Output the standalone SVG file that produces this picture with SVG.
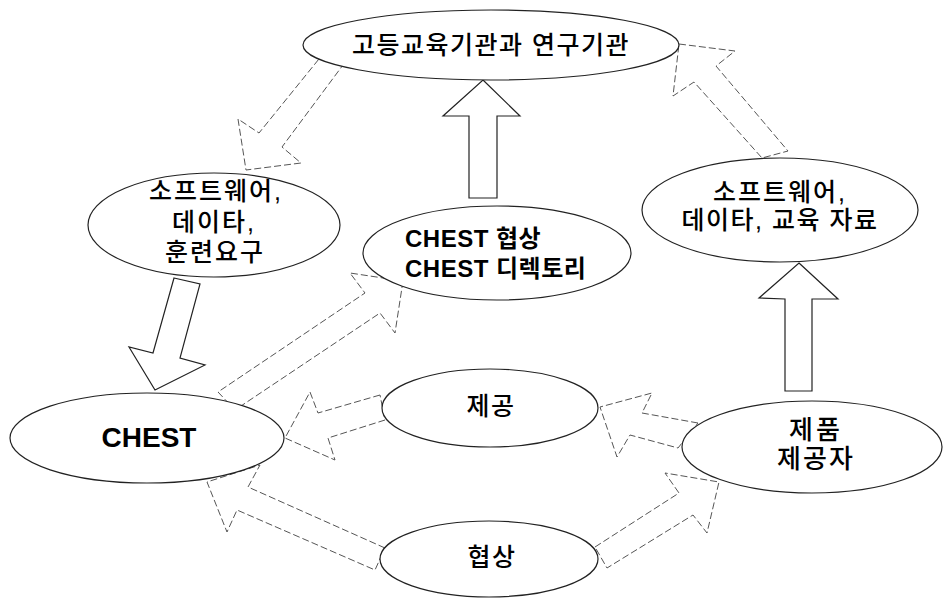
<svg xmlns="http://www.w3.org/2000/svg" width="947" height="598" viewBox="0 0 947 598">
<style>
.bg{fill:#ffffff}
.node ellipse{fill:#ffffff;stroke:#222;stroke-width:1.2}
.arr{fill:#ffffff;stroke:#222;stroke-width:1.2;stroke-linejoin:miter}
.faint{stroke:#555;stroke-width:1;stroke-dasharray:7 3}
.kr{font-family:"Liberation Sans","Noto Sans CJK KR",sans-serif;font-size:25px;font-weight:500;fill:#000;text-anchor:middle;letter-spacing:1.5px}
.b{font-weight:bold}
</style>
<rect class="bg" x="0" y="0" width="947" height="598"/>
<g id="connectors">
<polygon class="arr faint" points="323,54 343,65 282,147 301,163 246,170 238,119 259,133"/>
<polygon class="arr faint" points="679,44 735,51 716,66 788,151 762,158 694,82 673,96"/>
<polygon class="arr" points="483,80 520,116 497,116 497,198 469,198 469,116 443,116"/>
<polygon class="arr" points="799,263 838,299 812,299 812,391 785,391 785,299 759,298"/>
<polygon class="arr" points="174,278 200,284 180,358 205,365 155,390 129,347 153,353"/>
<polygon class="arr faint" points="403,281 395,333 380,313 235,410 218,392 365,293 350,273"/>
<polygon class="arr faint" points="380,395 318,413 310,392 285,438 335,460 328,438 385,420"/>
<polygon class="arr faint" points="698,423 642,413 652,393 600,407 617,457 630,435 678,448"/>
<polygon class="arr faint" points="385,548 248,487 260,465 207,482 227,532 237,510 375,570"/>
<polygon class="arr faint" points="595,547 679,493 665,473 719,482 707,533 693,515 607,568"/>
</g>
<g id="node-top" class="node">
<ellipse cx="491" cy="45" rx="188" ry="35"/>
<text class="kr" x="491" y="54">고등교육기관과 연구기관</text>
</g>
<g id="node-left" class="node">
<ellipse cx="214" cy="225" rx="126" ry="52"/>
<text class="kr" x="216" y="200" style="letter-spacing:2px">소프트웨어,</text>
<text class="kr" x="214" y="231" style="letter-spacing:2px">데이타,</text>
<text class="kr" x="215" y="261" style="letter-spacing:2px">훈련요구</text>
</g>
<g id="node-middle" class="node">
<ellipse cx="497" cy="253" rx="134" ry="47"/>
<text class="kr b" x="405" y="247" style="font-size:24px;text-anchor:start;letter-spacing:0.5px">CHEST 협상</text>
<text class="kr b" x="405" y="277" style="font-size:24px;text-anchor:start;letter-spacing:0.5px">CHEST 디렉토리</text>
</g>
<g id="node-right" class="node">
<ellipse cx="780" cy="210" rx="138" ry="52"/>
<text class="kr" x="780" y="201" style="letter-spacing:2px">소프트웨어,</text>
<text class="kr" x="780" y="229">데이타, 교육 자료</text>
</g>
<g id="node-chest" class="node">
<ellipse cx="147" cy="438" rx="137" ry="45"/>
<text class="kr b" x="149" y="447" style="font-size:28px;letter-spacing:0">CHEST</text>
</g>
<g id="node-provide" class="node">
<ellipse cx="490" cy="408" rx="108" ry="39"/>
<text class="kr" x="491" y="415">제공</text>
</g>
<g id="node-negotiate" class="node">
<ellipse cx="489" cy="559" rx="109" ry="38"/>
<text class="kr" x="492" y="566">협상</text>
</g>
<g id="node-supplier" class="node">
<ellipse cx="812" cy="447" rx="130" ry="46"/>
<text class="kr" x="816" y="439" style="font-size:26px;letter-spacing:3px">제품</text>
<text class="kr" x="816" y="468" style="font-size:26px;letter-spacing:2px">제공자</text>
</g>
</svg>
